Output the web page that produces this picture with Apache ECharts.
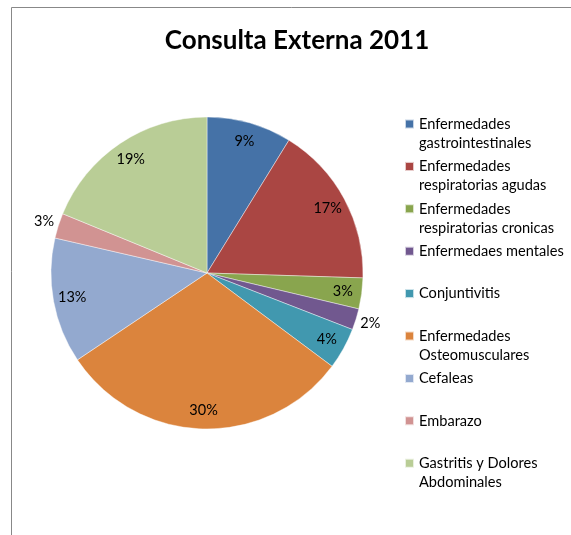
<!DOCTYPE html>
<html><head><meta charset="utf-8">
<script src="https://cdn.jsdelivr.net/npm/echarts@6/dist/echarts.min.js"></script>
<style>html,body{margin:0;padding:0;background:#fff}#c{width:571px;height:535px}</style>
</head><body><div id="c"></div>
<script>
const titleText = 'Consulta Externa 2011';
const categories = [
  'Enfermedades\ngastrointestinales',
  'Enfermedades\nrespiratorias agudas',
  'Enfermedades\nrespiratorias cronicas',
  'Enfermedaes mentales',
  'Conjuntivitis',
  'Enfermedades\nOsteomusculares',
  'Cefaleas',
  'Embarazo',
  'Gastritis y Dolores\nAbdominales'
];
const values = [8.8, 16.7, 3.2, 2.2, 4.3, 30.4, 13.0, 2.6, 18.8];
const colors = ['#4572A7', '#AA4643', '#89A54E', '#71588F', '#4198AF', '#DB843D', '#93A9CF', '#D19392', '#B9CD96'];
const outsideLabels = [3, 7];

const FONT = 'Lato';
const CX = 207, CY = 273, R = 156;
const LH = 19;

const chart = echarts.init(document.getElementById('c'), null, {renderer: 'canvas'});

const pctFmt = p => Math.round(p.percent) + '%';
const labelStyle = {color: '#000', fontFamily: FONT, fontSize: 14.5};
const transparent = 'rgba(0,0,0,0)';

const mainData = categories.map((n, i) => ({name: n, value: values[i], itemStyle: {color: colors[i]}}));
const innerLabelData = categories.map((n, i) => ({
  name: n, value: values[i], itemStyle: {color: transparent, borderWidth: 0},
  label: {show: outsideLabels.indexOf(i) < 0}
}));
const outerLabelData = categories.map((n, i) => ({
  name: n, value: values[i], itemStyle: {color: transparent, borderWidth: 0},
  label: {show: outsideLabels.indexOf(i) >= 0}
}));

const legends = categories.map((n, i) => {
  const lines = n.split('\n').length;
  const c = 124 + i * 42.4;
  return {
    data: [n], orient: 'vertical', left: 404,
    top: c - (lines > 1 ? 1.5 * LH : 0.5 * LH),
    padding: 0, itemWidth: 9, itemHeight: 9, icon: 'rect', selectedMode: false,
    formatter: name => (lines > 1 ? ' \n' + name : name),
    textStyle: {color: '#000', fontFamily: FONT, fontSize: 14.6, lineHeight: LH}
  };
});

const common = {type: 'pie', center: [CX, CY], startAngle: 90, clockwise: true,
  avoidLabelOverlap: false, silent: true, animation: false, emphasis: {disabled: true},
  labelLine: {show: false}};

chart.setOption({
  backgroundColor: '#fff',
  animation: false,
  title: {text: titleText, left: 297, top: 28, textAlign: 'center', padding: 0,
    textStyle: {fontFamily: FONT, fontWeight: 'bold', fontSize: 26, color: '#000'}},
  legend: legends,
  graphic: [{type: 'rect', silent: true, z: -10,
    shape: {x: 11.5, y: 7.5, width: 800, height: 800},
    style: {fill: 'none', stroke: '#888', lineWidth: 1}}],
  series: [
    Object.assign({}, common, {name: 'main', radius: [0, R], data: mainData,
      label: {show: false},
      itemStyle: {borderColor: 'rgba(255,255,255,0.7)', borderWidth: 0.6}}),
    Object.assign({}, common, {name: 'inner', radius: [112, R], data: innerLabelData,
      label: Object.assign({position: 'inside', formatter: pctFmt}, labelStyle)}),
    Object.assign({}, common, {name: 'outer', radius: [R, 180], data: outerLabelData,
      label: Object.assign({position: 'inside', formatter: pctFmt}, labelStyle)})
  ]
});
</script>
</body></html>
